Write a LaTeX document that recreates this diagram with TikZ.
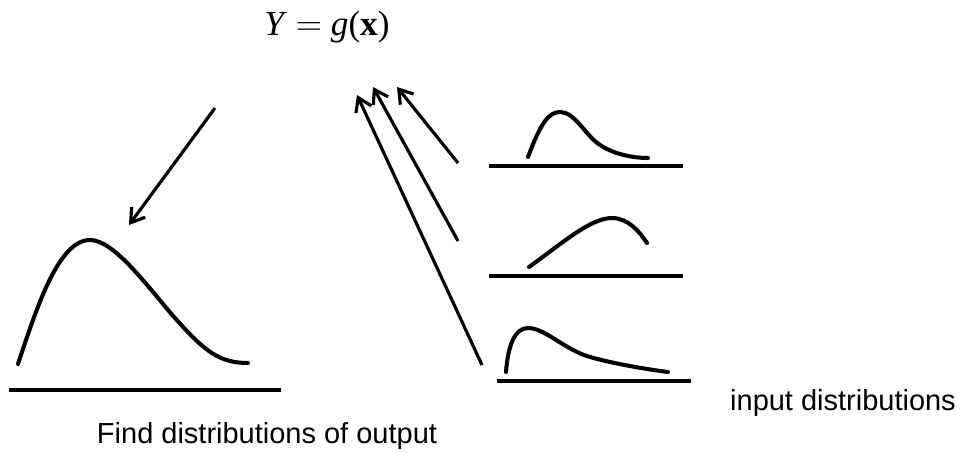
\documentclass[tikz,border=0pt]{standalone}
\usepackage{amsmath,amssymb}
\usepackage[no-math]{fontspec}
\setmainfont{Liberation Sans}
\newfontfamily\eqfont{Liberation Serif}
\usepackage{tikz}
\usetikzlibrary{arrows.meta}

\begin{document}
\begin{tikzpicture}[
  x=0.02cm,y=-0.02cm,
  lbl/.style={font=\fontsize{16.5}{19}\selectfont,inner sep=0pt,anchor=base},
  pdf/.style={line width=2.3pt,line cap=round},
  axis/.style={line width=2.6pt},
  a/.style={-{Straight Barb[length=2.6mm,width=3.4mm,line width=1.8pt]},line width=1.8pt}
]
\useasboundingbox (0,0) rectangle (961,453);
% model and labels
\node[lbl,font=\eqfont\fontsize{20}{22}\selectfont] (model) at (327,35)
  {\textit{Y} $=$ \textit{g}(\textbf{x})};
\node[lbl] (outlbl) at (267,443) {Find distributions of output};
\node[lbl] (inlbl) at (843,410) {input distributions};
% output distribution
\draw[axis] (9,390) -- (281,390);
\draw[pdf] (18,364) .. controls (36,310) and (58,240) .. (90,240)
  .. controls (115,240) and (150,290) .. (175,318)
  .. controls (205,352) and (220,363) .. (248,363);
% input distributions
\draw[axis] (489,166) -- (683,166);
\draw[pdf] (528,157) .. controls (540,125) and (548,112) .. (560,112)
  .. controls (575,112) and (585,135) .. (600,145)
  .. controls (615,155) and (635,158) .. (648,158);
\draw[axis] (489,276) -- (683,276);
\draw[pdf] (529,267) .. controls (560,245) and (590,218) .. (612,218)
  .. controls (628,218) and (640,232) .. (647,243);
\draw[axis] (497,381) -- (691,381);
\draw[pdf] (506,372) .. controls (508,345) and (515,328) .. (528,328)
  .. controls (545,328) and (565,350) .. (590,357)
  .. controls (615,364) and (645,369) .. (668,372);
% arrow ends
\coordinate (in1) at (458,163);
\coordinate (in2) at (458,241);
\coordinate (in3) at (482,365);
\coordinate (g1) at (397,87);
\coordinate (g2) at (373,87);
\coordinate (g3) at (357,95);
\coordinate (gout) at (215,108);
\coordinate (out) at (129,225);
\draw[a] (in1) -- (g1);
\draw[a] (in2) -- (g2);
\draw[a] (in3) -- (g3);
\draw[a] (gout) -- (out);
\end{tikzpicture}
\end{document}
